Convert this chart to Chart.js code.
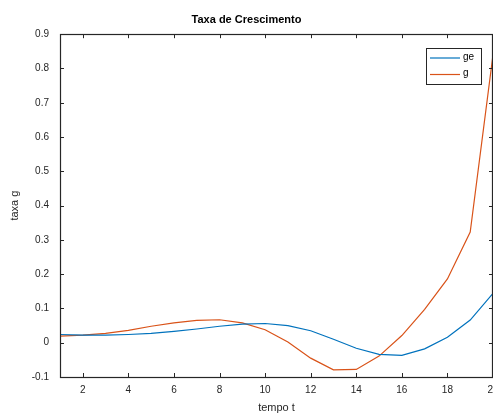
<!DOCTYPE html>
<html>
<head>
<meta charset="utf-8">
<script src="https://cdn.jsdelivr.net/npm/chart.js@4/dist/chart.umd.min.js"></script>
<style>
  html, body { margin: 0; padding: 0; background: #fff; }
  #wrap { width: 493px; height: 415px; }
</style>
</head>
<body>
<div id="wrap"><canvas id="chart" width="493" height="415"></canvas></div>
<script>
// tempo t
const tempo = [1, 2, 3, 4, 5, 6, 7, 8, 9, 10, 11, 12, 13, 14, 15, 16, 17, 18, 19, 20];
// series
const ge = [0.024, 0.022, 0.022, 0.024, 0.027, 0.033, 0.040, 0.048, 0.054, 0.056,
            0.050, 0.035, 0.010, -0.016, -0.034, -0.037, -0.018, 0.016, 0.066, 0.144];
const g = [0.019, 0.022, 0.027, 0.036, 0.048, 0.058, 0.065, 0.067, 0.058, 0.038,
           0.002, -0.045, -0.079, -0.078, -0.039, 0.021, 0.097, 0.186, 0.323, 0.84];
const xTicks = [2, 4, 6, 8, 10, 12, 14, 16, 18, 20];
const yTicks = [-0.1, 0, 0.1, 0.2, 0.3, 0.4, 0.5, 0.6, 0.7, 0.8, 0.9];

const axisColor = '#262626';
const font = "'Liberation Sans', Arial, Helvetica, sans-serif";

// matlab style box with inward ticks + legend box in the corner
const boxPlugin = {
    id: 'box',
    afterDatasetsDraw(chart) {
        const { ctx, chartArea: a, scales } = chart;
        const tl = 4;
        ctx.save();
        ctx.strokeStyle = axisColor;
        ctx.lineWidth = 1;
        ctx.beginPath();
        xTicks.forEach(v => {
            const px = Math.round(scales.x.getPixelForValue(v)) + 0.5;
            ctx.moveTo(px, a.bottom); ctx.lineTo(px, a.bottom - tl);
            ctx.moveTo(px, a.top); ctx.lineTo(px, a.top + tl);
        });
        yTicks.forEach(v => {
            const py = Math.round(scales.y.getPixelForValue(v)) + 0.5;
            ctx.moveTo(a.left, py); ctx.lineTo(a.left + tl, py);
            ctx.moveTo(a.right, py); ctx.lineTo(a.right - tl, py);
        });
        ctx.stroke();
        ctx.lineWidth = 1.2;
        ctx.strokeRect(Math.round(a.left) + 0.5, Math.round(a.top) + 0.5,
                       Math.round(a.right - a.left) - 1, Math.round(a.bottom - a.top));

        // legend
        const lx = 426, ly = 48, lw = 55, lh = 36;
        ctx.fillStyle = '#fff';
        ctx.fillRect(lx, ly, lw, lh);
        ctx.strokeStyle = '#262626';
        ctx.lineWidth = 1;
        ctx.strokeRect(lx + 0.5, ly + 0.5, lw, lh);
        ctx.font = '10px ' + font;
        ctx.textBaseline = 'middle';
        chart.data.datasets.forEach((ds, i) => {
            const yy = ly + 10 + i * 16.5;
            ctx.strokeStyle = ds.borderColor;
            ctx.lineWidth = 1.2;
            ctx.beginPath();
            ctx.moveTo(lx + 4, yy); ctx.lineTo(lx + 34, yy);
            ctx.stroke();
            ctx.fillStyle = '#000';
            ctx.fillText(ds.label, lx + 37, yy - 1);
        });
        ctx.restore();
    }
};

const ctx = document.getElementById('chart').getContext('2d');
new Chart(ctx, {
    type: 'line',
    data: {
        labels: tempo,
        datasets: [{
            label: 'ge',
            data: tempo.map((t, i) => ({ x: t, y: ge[i] })),
            borderColor: '#0072BD',
            borderWidth: 1.2,
            pointRadius: 0,
            tension: 0
        }, {
            label: 'g',
            data: tempo.map((t, i) => ({ x: t, y: g[i] })),
            borderColor: '#D95319',
            borderWidth: 1.2,
            pointRadius: 0,
            tension: 0
        }]
    },
    options: {
        responsive: false,
        animation: false,
        layout: { padding: { left: 0, right: 0, top: 0, bottom: 0 } },
        scales: {
            x: {
                type: 'linear',
                min: 1,
                max: 20,
                afterBuildTicks: s => { s.ticks = xTicks.map(v => ({ value: v })); },
                afterFit: s => {
                    s.height = 38;
                    // let the "20" label run off the edge like the original
                    s.paddingLeft = 0;
                    s.paddingRight = 0;
                },
                grid: { display: false, drawTicks: false },
                border: { display: false },
                ticks: {
                    padding: 7,
                    maxRotation: 0,
                    color: axisColor,
                    font: { family: font, size: 10 }
                },
                title: {
                    display: true,
                    text: 'tempo t',
                    color: axisColor,
                    padding: { top: 0, bottom: 0 },
                    font: { family: font, size: 11 }
                }
            },
            y: {
                min: -0.1,
                max: 0.9,
                afterBuildTicks: s => { s.ticks = yTicks.map(v => ({ value: v })); },
                afterFit: s => {
                    s.width = 60;
                    s.paddingTop = 0;
                    s.paddingBottom = 0;
                },
                grid: { display: false, drawTicks: false },
                border: { display: false },
                ticks: {
                    padding: 11,
                    color: axisColor,
                    font: { family: font, size: 10 },
                    callback: v => String(Number(v.toFixed(1)))
                },
                title: {
                    display: true,
                    text: 'taxa g',
                    color: axisColor,
                    padding: { top: 8, bottom: 0 },
                    font: { family: font, size: 11 }
                }
            }
        },
        plugins: {
            legend: { display: false },
            tooltip: { enabled: false },
            title: {
                display: true,
                text: 'Taxa de Crescimento',
                color: '#000',
                padding: { top: 13, bottom: 8 },
                font: { family: font, size: 11, weight: 'bold' }
            }
        }
    },
    plugins: [boxPlugin]
});
</script>
</body>
</html>
